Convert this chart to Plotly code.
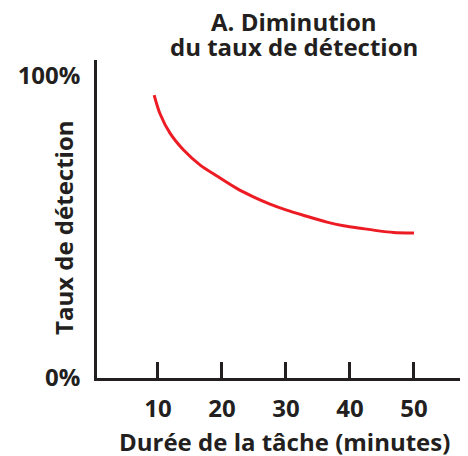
import plotly.graph_objects as go

minutes = [9.4, 10.3, 11.9, 14.0, 16.6, 19.2, 22.3, 24.9, 27.5, 30.1,
           32.7, 36.4, 39.0, 41.6, 44.2, 46.8, 50.0]
detection = [93.7, 87.6, 81.0, 75.5, 70.5, 66.9, 62.8, 60.0, 57.6, 55.6,
             53.9, 51.6, 50.4, 49.6, 48.8, 48.2, 48.0]
x_ticks = [10, 20, 30, 40, 50]
y_ticks = [0, 100]
y_tick_labels = ["0%", "100%"]
title_lines = ["A. Diminution", "du taux de détection"]
x_title = "Durée de la tâche (minutes)"
y_title = "Taux de détection"

TXT = "#231f20"
FONT = "Open Sans"
FS = 24

fig = go.Figure()
fig.add_trace(go.Scatter(
    x=minutes, y=detection, mode="lines",
    line=dict(color="#ed1c24", width=3, shape="spline", smoothing=0.8),
    hoverinfo="skip", showlegend=False,
))

annots = [
    dict(text=f"<b>{title_lines[0]}</b>", x=0.531, y=1.1226),
    dict(text=f"<b>{title_lines[1]}</b>", x=0.531, y=1.0409),
    dict(text=f"<b>{x_title}</b>", x=0.5067, y=-0.2000),
    dict(text=f"<b>{y_title}</b>", x=-0.0889, y=0.4717, textangle=-90),
]
for a in annots:
    a.update(xref="paper", yref="paper", xanchor="center", yanchor="middle",
             showarrow=False, font=dict(family=FONT, size=FS, color=TXT))

fig.update_layout(
    width=460, height=448,
    margin=dict(l=89, r=0, t=52, b=78),
    paper_bgcolor="white", plot_bgcolor="white",
    font=dict(family=FONT, color=TXT),
    annotations=annots,
    xaxis=dict(
        range=[0.47, 58.44],
        tickvals=x_ticks,
        ticktext=[f"<b>{v}</b>" for v in x_ticks],
        ticks="inside", ticklen=16, tickwidth=2.5, tickcolor=TXT,
        showline=True, linewidth=2.5, linecolor=TXT,
        showgrid=False, zeroline=False, automargin=False,
        tickfont=dict(family=FONT, size=FS, color=TXT),
        ticklabelstandoff=7,
    ),
    yaxis=dict(
        range=[0, 105.3],
        tickvals=y_ticks,
        ticktext=[f"<b>{t}</b>" for t in y_tick_labels],
        ticks="",
        showline=True, linewidth=2.5, linecolor=TXT,
        showgrid=False, zeroline=False, automargin=False,
        tickfont=dict(family=FONT, size=FS, color=TXT),
        ticklabelstandoff=9,
    ),
)

fig.write_html("out.html")
